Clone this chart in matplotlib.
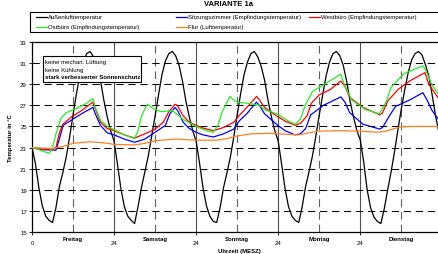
import matplotlib
matplotlib.use("Agg")
import matplotlib.pyplot as plt
from matplotlib.patches import Rectangle
from matplotlib.lines import Line2D

plt.rcParams['font.family'] = ['Liberation Sans', 'DejaVu Sans']

# Außenlufttemperatur, stündlich 0..120 h
outdoor = [
    23.0, 21.5, 19.2, 17.5, 16.5, 16.1, 15.9, 17.3, 19.3, 20.6, 22.1, 24.0,
    26.1, 28.1, 29.9, 31.1, 31.9, 32.1, 31.6, 30.7, 29.4, 27.5, 25.9, 24.6,
    23.6, 21.4, 19.1, 17.4, 16.5, 16.1, 15.8, 17.4, 19.2, 20.7, 22.2, 24.1,
    26.0, 28.0, 29.9, 31.2, 31.9, 32.1, 31.7, 30.8, 29.3, 27.4, 25.9, 24.6,
    23.6, 21.5, 19.2, 17.5, 16.5, 16.0, 15.9, 17.3, 19.2, 20.6, 22.1, 24.0,
    26.1, 28.1, 29.9, 31.1, 31.9, 32.1, 31.6, 30.7, 29.4, 27.5, 25.9, 24.6,
    23.6, 21.4, 19.1, 17.4, 16.5, 16.1, 15.9, 17.4, 19.3, 20.7, 22.2, 24.1,
    26.1, 28.0, 29.8, 31.1, 31.9, 32.1, 31.7, 30.8, 29.3, 27.4, 25.9, 24.6,
    23.7, 21.6, 19.0, 17.3, 16.4, 16.0, 15.8, 17.2, 19.0, 20.7, 22.6, 24.7,
    26.7, 28.5, 30.1, 31.3, 31.9, 32.1, 31.8, 30.9, 29.8, 28.0, 26.0, 24.4,
    23.8,
]
outdoor_h = list(range(len(outdoor)))

# Sitzungszimmer
blue_h = [0, 3, 7, 8, 9.1, 12, 15, 17.8, 18.5, 20, 22, 24, 27, 30, 33, 36,
          39, 40.3, 41.8, 42.6, 44.2, 46, 48, 50, 53, 56, 59, 60.5, 62.8, 65.6,
          66.5, 68, 71.5, 74, 76.9, 78.5, 80, 81.5, 85.2, 90.3, 91.5, 92.9,
          96.8, 101.7, 102.5, 104.5, 106.3, 110.4, 114.3, 115.5, 117, 119]
blue_t = [23.0, 22.8, 22.75, 23.8, 25.1, 25.7, 26.3, 26.8, 26.2, 25.1, 24.4,
          24.2, 23.8, 23.5, 23.8, 24.45, 25.1, 26.2, 26.8, 26.5, 25.4, 24.8,
          24.45, 24.2, 24.0, 24.3, 24.75, 25.5, 26.2, 27.3, 27.0, 26.2, 25.2,
          24.6, 24.2, 24.3, 24.8, 26.1, 27.0, 27.8, 27.3, 26.3, 25.2, 24.75,
          24.9, 26.0, 26.9, 27.5, 28.2, 27.5, 26.5, 25.6]

# Westbüro
red_h = [0, 3, 6, 7, 8, 9, 11.5, 14, 17.8, 18.5, 20, 22, 24, 27, 30, 33, 36,
         38.4, 40, 41.8, 42.5, 44.2, 46, 48, 50, 53, 56, 59, 60.5, 62.8, 65.7,
         66.5, 68, 71.5, 74, 77, 78.5, 80.4, 81.7, 84, 87.2, 90.3, 91.5, 92.9,
         96.8, 101.7, 102.5, 104, 107, 110.4, 114.9, 116, 117.5, 119]
red_t = [23.0, 22.85, 22.85, 23.0, 24.4, 25.2, 25.9, 26.4, 27.3, 26.7, 25.4,
         24.8, 24.6, 24.2, 23.9, 24.3, 24.75, 25.4, 26.4, 27.1, 27.0, 26.0,
         25.4, 25.1, 24.85, 24.6, 24.9, 25.4, 26.0, 26.8, 27.85, 27.5, 26.8,
         26.0, 25.5, 25.1, 25.3, 26.0, 27.2, 28.0, 28.5, 29.3, 28.8, 27.75,
         26.8, 26.1, 26.3, 27.4, 28.5, 29.3, 30.1, 29.0, 28.3, 27.6]

# Ostbüro
green_h = [0, 2, 5, 6, 7, 8.5, 10, 13, 16, 17.8, 18.5, 20, 22, 24, 27, 30, 31,
           32, 33.7, 35, 36, 38, 41, 43, 44.5, 48, 51, 53, 54.5, 55.5, 57.9, 59,
           60, 63, 66.5, 68, 71.5, 75, 77, 78.5, 80, 82, 86, 90.3, 91.3, 93.5,
           97.5, 101.6, 103.5, 105, 108.7, 114.3, 115.3, 117, 119]
green_t = [23.0, 22.8, 22.45, 23.0, 24.3, 25.8, 26.3, 26.7, 27.2, 27.65, 26.8,
           25.6, 25.0, 24.7, 24.2, 23.85, 24.6, 26.0, 27.1, 26.8, 26.6, 26.4,
           26.5, 26.0, 25.6, 25.0, 24.6, 24.45, 25.2, 26.3, 27.85, 27.5, 27.3,
           27.2, 27.0, 26.6, 26.2, 25.5, 25.2, 25.7, 27.1, 28.3, 29.1, 29.95,
           29.0, 27.5, 26.6, 26.2, 27.3, 28.7, 30.0, 30.75, 30.2, 28.9, 28.0]

# Flur
orange_h = [0, 6, 9, 12, 17, 21, 24, 30, 33, 36, 42, 48, 54, 57, 60, 64, 70,
            75, 78, 81, 84, 90, 96, 101, 104, 107, 110, 120]
orange_t = [23.0, 22.9, 23.1, 23.4, 23.55, 23.45, 23.3, 23.25, 23.4, 23.65,
            23.8, 23.7, 23.7, 23.85, 24.1, 24.3, 24.35, 24.25, 24.2, 24.4,
            24.55, 24.6, 24.55, 24.45, 24.6, 24.9, 25.0, 25.0]

midnights = [0, 24, 48, 72, 96]
midnight_labels = ["0", "24", "24", "24", "24"]
noons = [12, 36, 60, 84, 108]
day_names = ["Freitag", "Samstag", "Sonntag", "Montag", "Dienstag"]
y_ticks = list(range(15, 34, 2))

series = [
    ("Außenlufttemperatur", outdoor_h, outdoor, "black"),
    ("Sitzungszimmer (Empfindungstemperatur)", blue_h, blue_t, "#0000FF"),
    ("Westbüro (Empfindungstemperatur)", red_h, red_t, "#FF0000"),
    ("Ostbüro (Empfindungstemperatur)", green_h, green_t, "#22EE22"),
    ("Flur (Lufttemperatur)", orange_h, orange_t, "#FF8020"),
]

fig = plt.figure(figsize=(4.38, 2.55), dpi=100)
ax = fig.add_axes([32 / 438, 22 / 255, 410.4 / 438, 190 / 255])

fs = 4.3
for x in midnights[1:]:
    ax.axvline(x, color="#505050", lw=0.8, zorder=1)
for x in noons:
    ax.axvline(x, color="#606060", lw=0.8, ls=(0, (7, 4.5)), zorder=1)
for y in y_ticks[1:-1]:
    ax.axhline(y, color="black", lw=0.75, ls=(0, (7, 4.5)), zorder=1)

for name, xs, ys, col in series:
    ax.plot(xs, ys, color=col, lw=0.9, zorder=3)

ax.set_xlim(0, 120)
ax.set_ylim(15, 33)
ax.set_yticks(y_ticks)
ax.set_xticks(midnights)
ax.set_xticklabels(midnight_labels)
ax.set_xticks(noons, minor=True)
ax.set_xticklabels(day_names, minor=True, fontweight="bold")
ax.tick_params(axis="x", which="major", length=2, width=0.6, pad=4, labelsize=fs)
ax.tick_params(axis="x", which="minor", length=0, pad=3.2, labelsize=fs)
ax.tick_params(axis="y", length=2.2, width=0.6, pad=1.5, labelsize=fs)
for s in ax.spines.values():
    s.set_linewidth(0.9)
ax.spines["right"].set_visible(False)

ax.set_ylabel("Temperatur in °C", fontsize=fs, fontweight="bold", labelpad=5)
fig.text(0.546, 0.012, "Uhrzeit (MESZ)", fontsize=fs, fontweight="bold",
         ha="center", va="center")
fig.text(0.521, 0.982, "VARIANTE 1a", fontsize=5.5, fontweight="bold",
         ha="center", va="center")

# annotation box
ax.add_patch(Rectangle((0.0268, 0.788), 0.2388, 0.14, transform=ax.transAxes,
                       facecolor="white", edgecolor="black", lw=0.8, zorder=5))
notes = [("keine mechan. Lüftung", "normal"), ("keine Kühlung", "normal"),
         ("stark verbesserter Sonnenschutz", "bold")]
for i, (txt, w) in enumerate(notes):
    ax.text(0.032, 0.896 - i * 0.04, txt, transform=ax.transAxes, fontsize=fs,
            fontweight=w, va="center", ha="left", zorder=6)

# legend box
fig.patches.append(Rectangle((30 / 438, 1 - 33 / 255), 0.95, 20 / 255,
                             transform=fig.transFigure, facecolor="white",
                             edgecolor="black", lw=0.8))
slots = [(36, 17.5), (176, 17.5), (309, 17.5), (36, 27.5), (176, 27.5)]
for (name, xs, ys, col), (px, py) in zip(series, slots):
    yy = 1 - py / 255
    fig.lines.append(Line2D([px / 438, (px + 11) / 438], [yy, yy], color=col,
                            lw=0.9, transform=fig.transFigure))
    fig.text((px + 12) / 438, yy, name, fontsize=fs, va="center", ha="left")

fig.savefig("out.png", dpi=100)
